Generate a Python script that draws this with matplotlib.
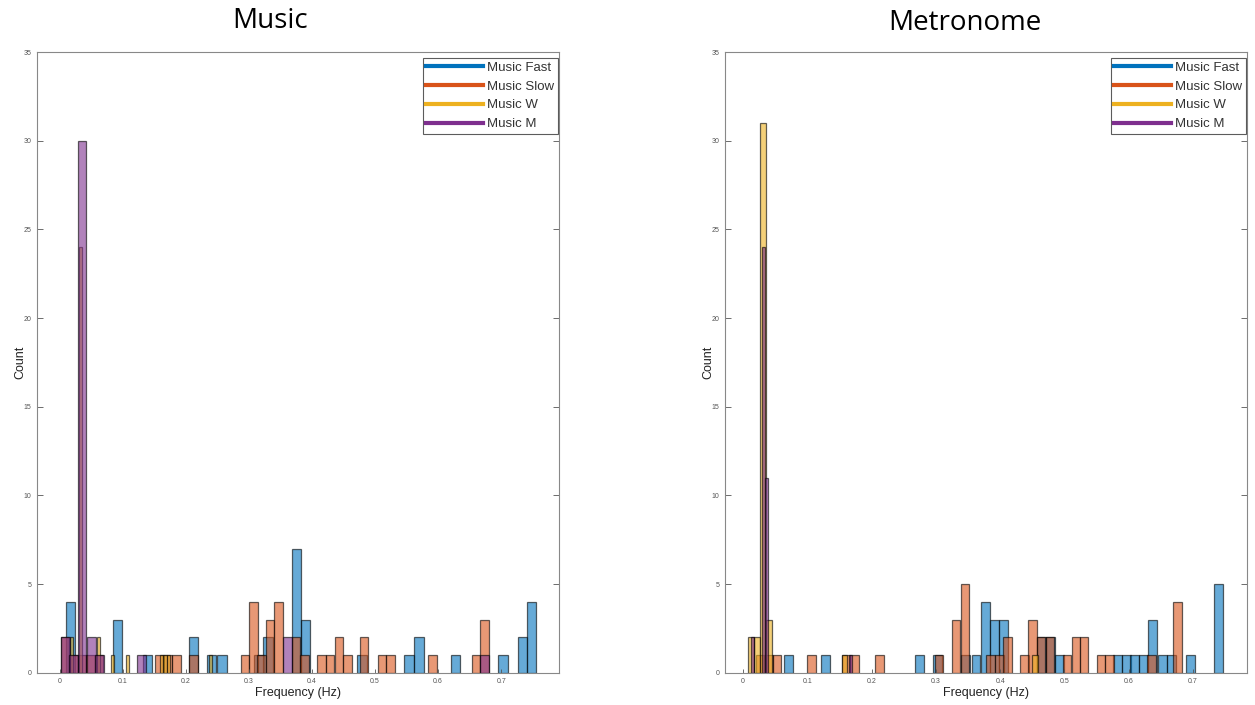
import numpy as np
import matplotlib.pyplot as plt
from matplotlib.lines import Line2D

# MATLAB default colours
c_fast = "#0072BD"
c_slow = "#D95319"
c_w = "#EDB120"
c_m = "#7E2F8E"

labels = ["Music Fast", "Music Slow", "Music W", "Music M"]

# ---- Music panel: bin left edges (Hz) and counts ----
fast_l_edges = [0.0095, 0.0846, 0.131, 0.204, 0.2335, 0.2497, 0.3085, 0.3227, 0.3677,
                0.3825, 0.472, 0.5466, 0.5624, 0.621, 0.6957, 0.7265, 0.7407]
fast_l_counts = [4, 3, 1, 2, 1, 1, 1, 2, 7, 3, 1, 1, 2, 1, 1, 2, 4]

slow_l_edges = [0.001, 0.0145, 0.028, 0.0415, 0.055, 0.151, 0.1645, 0.178, 0.205, 0.2868,
                0.300, 0.3132, 0.3265, 0.340, 0.3677, 0.381, 0.4085, 0.4217, 0.436, 0.4497,
                0.476, 0.504, 0.5175, 0.5847, 0.6535, 0.6667]
slow_l_counts = [2, 1, 1, 1, 1, 1, 1, 1, 1, 1, 4, 1, 3, 4, 2, 1, 1, 1, 2, 1, 2, 1, 1, 1, 1, 3]

w_l_edges = [0.0155, 0.0306, 0.058, 0.081, 0.104, 0.159, 0.164, 0.169, 0.2365]
w_l_counts = [2, 24, 2, 1, 1, 1, 1, 1, 1]

m_l_edges = [0.001, 0.0145, 0.0278, 0.0422, 0.0556, 0.1225, 0.3545, 0.6667]
m_l_counts = [2, 1, 30, 2, 1, 1, 2, 1]

# ---- Metronome panel ----
fast_r_edges = [0.0638, 0.1213, 0.2675, 0.2955, 0.3385, 0.3555, 0.3697, 0.384, 0.3987,
                0.4567, 0.4707, 0.4852, 0.576, 0.589, 0.602, 0.616, 0.6305, 0.645, 0.66,
                0.689, 0.733]
fast_r_counts = [1, 1, 1, 1, 1, 1, 4, 3, 3, 2, 2, 1, 1, 1, 1, 1, 3, 1, 1, 1, 5]

slow_r_edges = [0.0195, 0.033, 0.0465, 0.100, 0.1535, 0.1665, 0.206, 0.2985, 0.3245,
                0.3385, 0.378, 0.392, 0.405, 0.4308, 0.4437, 0.4567, 0.4707, 0.497,
                0.511, 0.524, 0.55, 0.563, 0.629, 0.669]
slow_r_counts = [1, 1, 1, 1, 1, 1, 1, 1, 3, 5, 1, 1, 2, 1, 3, 2, 2, 1, 2, 2, 1, 1, 1, 4]

w_r_edges = [0.0083, 0.0175, 0.027, 0.0355, 0.1535, 0.450]
w_r_counts = [2, 2, 31, 3, 1, 1]

m_r_edges = [0.0125, 0.0303, 0.0348, 0.165]
m_r_counts = [2, 24, 11, 1]

fig = plt.figure(figsize=(12.55, 7.05), dpi=100)
plt.rcParams['font.family'] = ['Liberation Sans', 'DejaVu Sans']


def hist_panel(ax, series, xlim):
    for edges, counts, width, col in series:
        ax.bar(edges, counts, width=width, align='edge', color=col, alpha=0.6,
               edgecolor='black', linewidth=0.9)
    ax.set_xlim(*xlim)
    ax.set_ylim(0, 35)
    ax.set_xticks(np.arange(0, 0.71, 0.1))
    ax.set_xticklabels(["0", "0.1", "0.2", "0.3", "0.4", "0.5", "0.6", "0.7"])
    ax.set_yticks(np.arange(0, 36, 5))
    ax.tick_params(direction='in', length=4, width=0.6, labelsize=5, colors='#555555',
                   right=True, pad=4)
    ax.tick_params(axis='x', length=3)
    for s in ax.spines.values():
        s.set_color('#888888')
        s.set_linewidth(0.8)
    ax.set_xlabel("Frequency (Hz)", fontsize=9, labelpad=1, color='#222222')
    ax.set_ylabel("Count", fontsize=9, labelpad=-2, color='#222222')
    handles = [Line2D([0], [0], color=c, lw=3) for c in (c_fast, c_slow, c_w, c_m)]
    leg = ax.legend(handles, labels, loc='upper right', bbox_to_anchor=(0.997, 0.99),
                    fontsize=9.5, frameon=True, fancybox=False, edgecolor='#333333',
                    handlelength=4.3, handletextpad=0.3, labelspacing=0.5,
                    borderpad=0.25, borderaxespad=0)
    leg.get_frame().set_linewidth(0.8)
    for t in leg.get_texts():
        t.set_color('#333333')


ax1 = fig.add_axes([0.0295, 0.0458, 0.416, 0.8804])
hist_panel(ax1, [(fast_l_edges, fast_l_counts, 0.0145, c_fast),
                 (slow_l_edges, slow_l_counts, 0.0135, c_slow),
                 (w_l_edges, w_l_counts, 0.005, c_w),
                 (m_l_edges, m_l_counts, 0.0142, c_m)], (-0.0365, 0.792))

ax2 = fig.add_axes([0.5777, 0.0458, 0.416, 0.8804])
hist_panel(ax2, [(fast_r_edges, fast_r_counts, 0.0138, c_fast),
                 (slow_r_edges, slow_r_counts, 0.0133, c_slow),
                 (w_r_edges, w_r_counts, 0.009, c_w),
                 (m_r_edges, m_r_counts, 0.0045, c_m)], (-0.028, 0.784))

fig.text(270 / 1255, 1 - 21 / 705, "Music", fontsize=20, ha='center', va='center',
         family=['Open Sans', 'DejaVu Sans'])
fig.text(965 / 1255, 1 - 23 / 705, "Metronome", fontsize=20, ha='center', va='center',
         family=['Open Sans', 'DejaVu Sans'])

fig.savefig("out.png", dpi=100)
